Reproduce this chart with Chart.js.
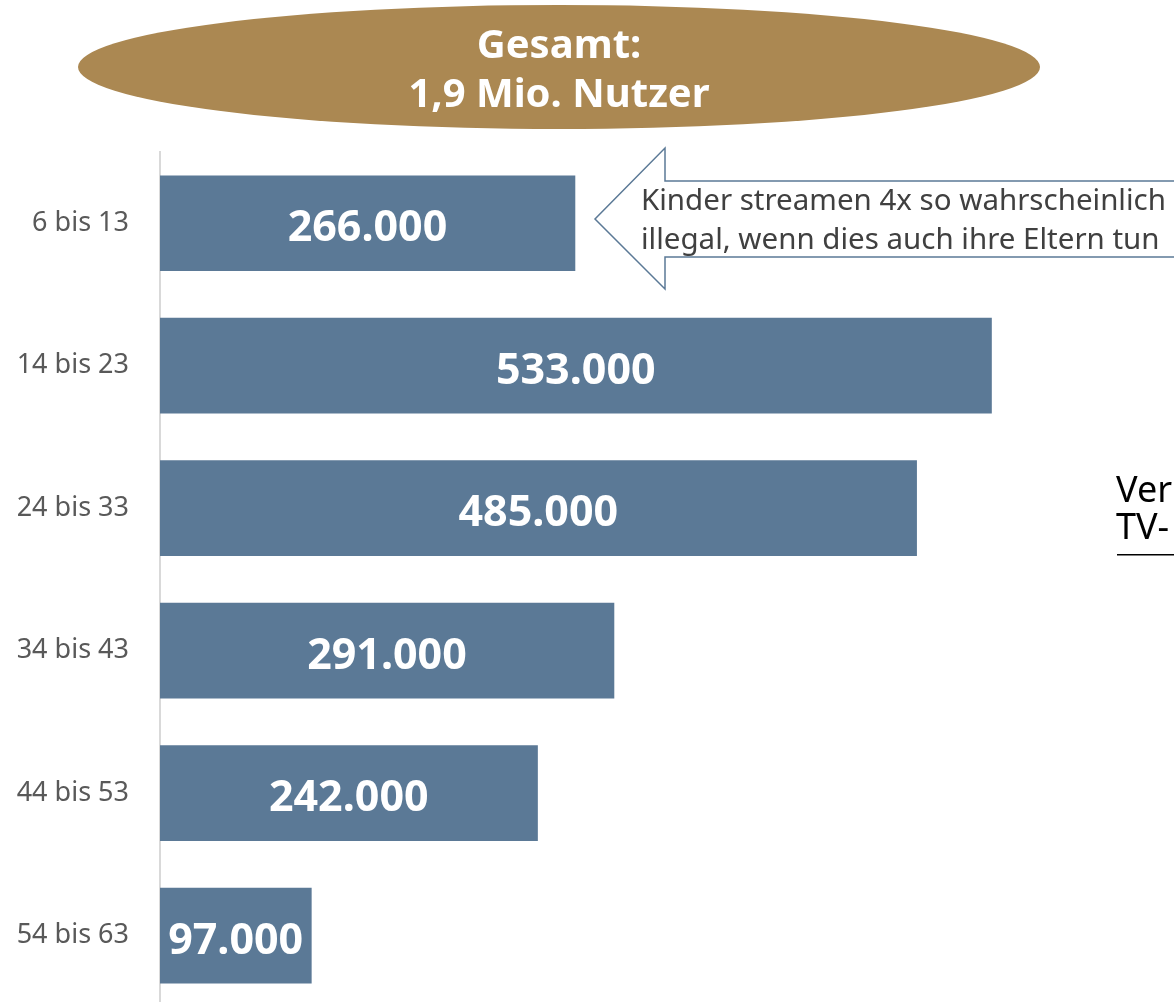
<!DOCTYPE html>
<html lang="de">
<head>
<meta charset="utf-8">
<title>Nutzer nach Alter</title>
<script src="https://cdn.jsdelivr.net/npm/chart.js@4.4.0/dist/chart.umd.min.js"></script>
<style>
    html, body { margin: 0; padding: 0; background: #fff; overflow: hidden; }
    #wrap { position: relative; width: 1174px; height: 1054px; }
</style>
</head>
<body>
<div id="wrap"><canvas id="chart"></canvas></div>
<script>
// Daten
const ageGroups = ['6 bis 13', '14 bis 23', '24 bis 33', '34 bis 43', '44 bis 53', '54 bis 63'];
const users = [266000, 533000, 485000, 291000, 242000, 97000];
const valueLabels = ['266.000', '533.000', '485.000', '291.000', '242.000', '97.000'];
const titleLines = ['Gesamt:', '1,9 Mio. Nutzer'];
const calloutLines = ['Kinder streamen 4x so wahrscheinlich', 'illegal, wenn dies auch ihre Eltern tun'];
const sideLines = ['Ver', 'TV-'];

const FONT = '"Noto Sans", "Open Sans", sans-serif';
const BAR = '#5B7996';

// Werte in die Balken schreiben
const valueLabelPlugin = {
    id: 'valueLabels',
    afterDatasetsDraw(chart) {
        const ctx = chart.ctx;
        const meta = chart.getDatasetMeta(0);
        ctx.save();
        ctx.fillStyle = '#fff';
        ctx.font = 'bold 43px ' + FONT;
        ctx.textAlign = 'center';
        ctx.textBaseline = 'middle';
        meta.data.forEach((bar, i) => {
            const cx = (bar.base + bar.x) / 2;
            ctx.fillText(valueLabels[i], cx, bar.y + 6);
        });
        ctx.restore();
    }
};

// Ellipse, Pfeil und Randtext
const decorPlugin = {
    id: 'decor',
    afterDraw(chart) {
        const ctx = chart.ctx;
        ctx.save();

        // Ellipse oben
        ctx.fillStyle = '#AB8852';
        ctx.beginPath();
        ctx.ellipse(559, 67, 481, 62, 0, 0, Math.PI * 2);
        ctx.fill();
        ctx.fillStyle = '#fff';
        ctx.font = 'bold 40px ' + FONT;
        ctx.textAlign = 'center';
        ctx.textBaseline = 'middle';
        ctx.fillText(titleLines[0], 559, 47);
        ctx.fillText(titleLines[1], 559, 96);

        // Pfeil nach links
        ctx.beginPath();
        ctx.moveTo(1180, 181);
        ctx.lineTo(665, 181);
        ctx.lineTo(665, 148);
        ctx.lineTo(595, 219);
        ctx.lineTo(665, 289);
        ctx.lineTo(665, 257);
        ctx.lineTo(1180, 257);
        ctx.closePath();
        ctx.fillStyle = '#fff';
        ctx.fill();
        ctx.strokeStyle = '#5B7996';
        ctx.lineWidth = 1.5;
        ctx.stroke();

        ctx.fillStyle = '#404040';
        ctx.font = '29.5px ' + FONT;
        ctx.textAlign = 'left';
        ctx.fillText(calloutLines[0], 641, 202);
        ctx.fillText(calloutLines[1], 641, 241);

        // abgeschnittener Text rechts
        ctx.fillStyle = '#000';
        ctx.font = '36px ' + FONT;
        ctx.fillText(sideLines[0], 1116, 492);
        ctx.fillText(sideLines[1], 1116, 529);
        ctx.fillRect(1117, 554, 60, 1.5);

        ctx.restore();
    }
};

new Chart(document.getElementById('chart'), {
    type: 'bar',
    data: {
        labels: ageGroups,
        datasets: [{
            data: users,
            backgroundColor: BAR,
            borderWidth: 0,
            barThickness: 95
        }]
    },
    options: {
        indexAxis: 'y',
        responsive: true,
        maintainAspectRatio: false,
        animation: false,
        events: [],
        layout: { padding: { top: 152, right: 0, bottom: 0, left: 0 } },
        plugins: {
            legend: { display: false },
            tooltip: { enabled: false }
        },
        scales: {
            x: {
                display: false,
                min: 0,
                max: 650000
            },
            y: {
                afterFit: s => { s.width = 160; },
                grid: { display: false, drawTicks: false },
                border: { color: '#D9D9D9', width: 2 },
                ticks: {
                    color: '#595959',
                    padding: 31,
                    font: { family: FONT, size: 27 }
                }
            }
        }
    },
    plugins: [valueLabelPlugin, decorPlugin]
});
</script>
</body>
</html>
